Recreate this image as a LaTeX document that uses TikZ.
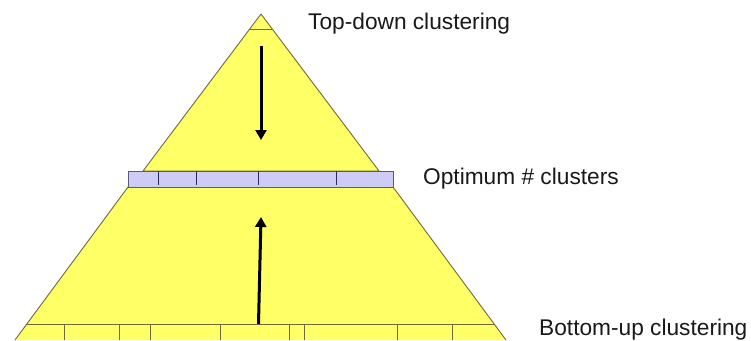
\documentclass[tikz,border=0pt]{standalone}
\usepackage{fontspec}
\setmainfont{Liberation Sans}
\usetikzlibrary{arrows.meta}
\definecolor{pyellow}{HTML}{FFFF66}
\definecolor{pedge}{HTML}{6E6A3A}
\definecolor{pband}{HTML}{CCCCF6}
\definecolor{pbandedge}{HTML}{5A5A78}
\definecolor{pdiv}{HTML}{2A2A5A}
\begin{document}
\begin{tikzpicture}[x=1pt,y=-1pt,
  yshape/.style={fill=pyellow,draw=pedge,line width=0.9pt,line join=round},
  yfill/.style={fill=pyellow},
  cellline/.style={draw=pedge,line width=0.9pt},
  bandbox/.style={fill=pband,draw=pbandedge,line width=0.9pt},
  banddiv/.style={draw=pdiv,line width=0.9pt},
  bigarrow/.style={line width=3pt,-{Triangle[length=10pt,width=11pt]}},
  lbl/.style={anchor=base west,inner sep=0pt,font=\fontsize{22.7}{27}\selectfont,text=black!90}]
\useasboundingbox (0,0) rectangle (751,340);
% upper triangle
\draw[yshape] (261,14) -- (143,171) -- (379,171) -- cycle;
\draw[cellline] (249.7,29) -- (272.3,29);
% lower trapezoid (cut by the lower edge of the picture)
\fill[yfill] (128,187) -- (15,340) -- (506,340) -- (393,187) -- cycle;
\draw[cellline] (15,340) -- (128,187) -- (393,187) -- (506,340);
\draw[cellline] (27,324) -- (495,324);
\foreach \x in {64,119,150,220,289,304,397,452}
  \draw[cellline] (\x,324) -- (\x,340);
% band
\draw[bandbox] (128,171) rectangle (393,187);
\foreach \x in {158,196,258,336}
  \draw[banddiv] (\x,171) -- (\x,185);
% arrows
\coordinate (dstart) at (261,46);
\coordinate (dend) at (261,140);
\coordinate (ustart) at (258.5,324);
\coordinate (uend) at (261,217);
\draw[bigarrow] (dstart) -- (dend);
\draw[bigarrow] (ustart) -- (uend);
% labels
\node[lbl] (top) at (308,29) {Top-down clustering};
\node[lbl] (opt) at (423,184) {Optimum \# clusters};
\node[lbl] (bot) at (539,335) {Bottom-up clustering};
\end{tikzpicture}
\end{document}
